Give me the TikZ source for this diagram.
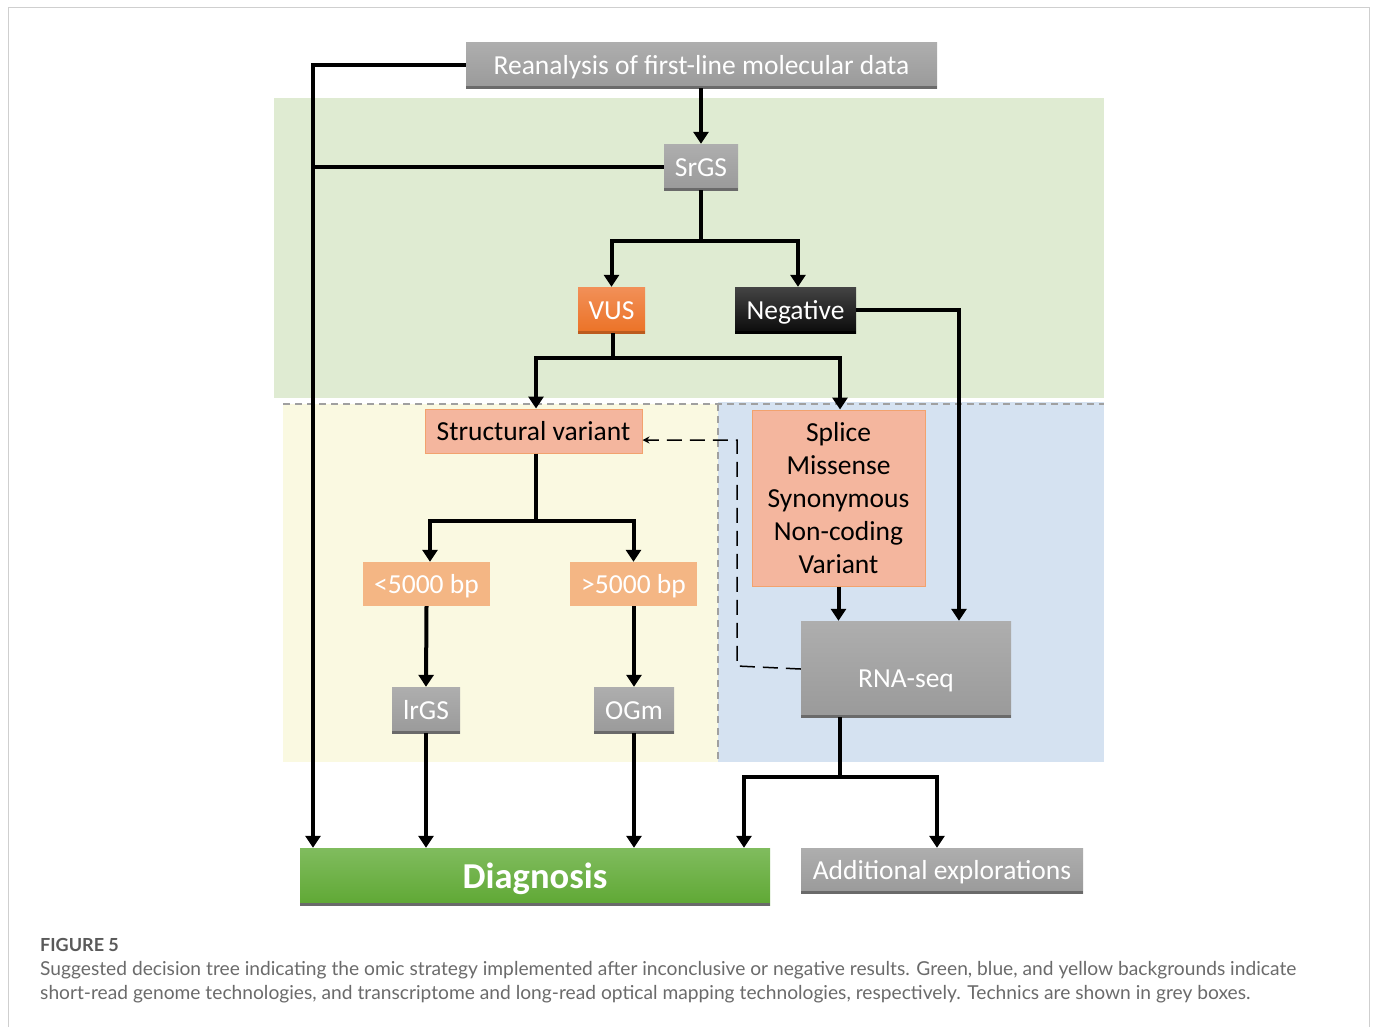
\documentclass[tikz,border=0pt]{standalone}
\usepackage{fontspec}
\setmainfont{Carlito}
\newfontfamily\capfont{Lato}
\usetikzlibrary{arrows.meta}
\definecolor{bggreen}{HTML}{DFEBD2}
\definecolor{bgyellow}{HTML}{FAF9E1}
\definecolor{bgblue}{HTML}{D5E2F1}
\definecolor{frame}{HTML}{CFCFCF}
\definecolor{dashgrey}{HTML}{A0A0A0}
\definecolor{greytop}{HTML}{AEAEAE}
\definecolor{greybot}{HTML}{9A9A9A}
\definecolor{greyline}{HTML}{6A6A6A}
\definecolor{orgtop}{HTML}{F29058}
\definecolor{orgbot}{HTML}{EB7226}
\definecolor{blktop}{HTML}{444444}
\definecolor{blkbot}{HTML}{0A0A0A}
\definecolor{salmon}{HTML}{F4B69E}
\definecolor{salmonedge}{HTML}{F2A26E}
\definecolor{lorange}{HTML}{F4B684}
\definecolor{grntop}{HTML}{80BC5E}
\definecolor{grnbot}{HTML}{5FA834}
\definecolor{captext}{HTML}{6B6B6B}
\definecolor{capbold}{HTML}{5A5A5A}
\tikzset{
  x=1pt, y=-1pt,
  every node/.style={inner sep=0pt, font=\fontsize{27.5}{33}\selectfont},
  capfix/.style={text height=18pt, text depth=0pt},
  bottomline/.style={path picture={\draw[line width=4pt, #1] (path picture bounding box.south west) -- (path picture bounding box.south east);}},
  greybox/.style={rectangle, capfix, top color=greytop, bottom color=greybot, text=white, bottomline=greyline},
  vusbox/.style={rectangle, capfix, top color=orgtop, bottom color=orgbot, text=white, bottomline=orgbot!80!black},
  negbox/.style={rectangle, capfix, top color=blktop, bottom color=blkbot, text=white, bottomline=black},
  salmonbox/.style={rectangle, fill=salmon, draw=salmonedge, line width=1pt, text=black},
  bpbox/.style={rectangle, capfix, fill=lorange, text=white},
  diagbox/.style={rectangle, text height=24pt, text depth=0pt, top color=grntop, bottom color=grnbot, text=white, bottomline=greyline},
  conn/.style={line width=4pt, -{Triangle[width=15pt,length=12pt]}},
  plainconn/.style={line width=4pt},
  dashconn/.style={line width=1.5pt, dash pattern=on 15pt off 8pt, -{Stealth[width=7pt,length=7pt]}},
  bgdash/.style={line width=2.5pt, dashgrey, dash pattern=on 7pt off 5pt},
  captxt/.style={anchor=base west, text=captext, font=\capfont\fontsize{19.2}{24}\selectfont},
}
\begin{document}
\begin{tikzpicture}
\useasboundingbox (0,0) rectangle (1375,1026);
\fill[white] (0,0) rectangle (1375,1026);
\draw[frame, line width=1.5pt] (8.5,1040) -- (8.5,7.5) -- (1369.5,7.5) -- (1369.5,1040);
% backgrounds
\fill[bggreen] (274,98) rectangle (1104,398);
\fill[bgyellow] (283,404) rectangle (718,762);
\fill[bgblue] (718,402) rectangle (1104,762);
\draw[bgdash] (283,404) -- (1104,404);
\draw[bgdash] (718,404) -- (718,762);
% nodes
\node[greybox, minimum width=471pt, minimum height=46pt] (rean) at (701.5,65) {Reanalysis of first-line molecular data};
\node[greybox, minimum width=74pt, minimum height=46pt] (srgs) at (701,167) {SrGS};
\node[vusbox, minimum width=67pt, minimum height=46pt] (vus) at (611.5,310) {VUS};
\node[negbox, minimum width=121pt, minimum height=46pt] (neg) at (795.5,310) {Negative};
\node[salmonbox, capfix, minimum width=217pt, minimum height=44pt] (sv) at (533.5,431) {Structural variant};
\node[salmonbox, minimum width=173pt, minimum height=176pt, align=center] (spl) at (838.5,498) {Splice\\Missense\\Synonymous\\Non-coding\\Variant};
\node[bpbox, minimum width=127pt, minimum height=44pt] (lt) at (426.5,584) {<5000 bp};
\node[bpbox, minimum width=127pt, minimum height=44pt] (gt) at (633.5,584) {>5000 bp};
\node[greybox, minimum width=68pt, minimum height=46pt] (lrgs) at (426,710) {lrGS};
\node[greybox, minimum width=80pt, minimum height=46pt] (ogm) at (634,710) {OGm};
\node[greybox, minimum width=210pt, minimum height=96pt] (rna) at (906,669) {\raisebox{-9pt}{RNA-seq}};
\node[diagbox, minimum width=470pt, minimum height=57pt, font=\fontsize{36.5}{40}\selectfont\bfseries] (diag) at (535,876.5) {Diagnosis};
\node[greybox, minimum width=282pt, minimum height=45pt] (add) at (942,870.5) {Additional explorations};
% helper coordinates
\coordinate (leftx) at (313,65);
\coordinate (j1) at (701,241);
\coordinate (j2) at (613,358);
\coordinate (j3) at (536,521);
\coordinate (j4) at (840,777);
% connectors
\draw[conn] (rean.west) -- (leftx) -- (leftx |- diag.north);
\draw[plainconn] (srgs.west) -- (leftx |- srgs.west);
\draw[conn] (rean.south -| srgs.north) -- (srgs.north);
\draw[plainconn] (srgs.south) -- (j1);
\draw[conn] (j1) -| (vus.north);
\draw[conn] (j1) -| ([xshift=2.5pt]neg.north);
\draw[conn] (neg.east) -| (959,0 |- rna.north);
\draw[plainconn] (vus.south -| j2) -- (j2);
\draw[conn] (j2) -| (sv.north -| j3);
\draw[conn] (j2) -| ([xshift=1.5pt]spl.north);
\draw[plainconn] (sv.south -| j3) -- (j3);
\draw[conn] (j3) -| ([xshift=3.5pt]lt.north);
\draw[conn] (j3) -| (gt.north);
\draw[conn] (lt.south) -- (lrgs.north);
\draw[conn] (gt.south -| ogm.north) -- (ogm.north);
\draw[conn] (lrgs.south) -- (lrgs.south |- diag.north);
\draw[conn] (ogm.south) -- (ogm.south |- diag.north);
\draw[conn] (spl.south) -- (spl.south |- rna.north);
\draw[plainconn] (rna.south -| j4) -- (j4);
\draw[conn] (j4) -| (744,0 |- diag.north);
\draw[conn] (j4) -| (937,0 |- add.north);
\draw[dashconn] (rna.west) -- (737,666) -- (737,440) -- (sv.east |- 0,440);
% caption
\node[anchor=base west, text=capbold, font=\capfont\fontsize{18}{20}\selectfont\bfseries] (figlab) at (40,951) {FIGURE 5};
\node[captxt] (cap1) at (40,975) {Suggested decision tree indicating the omic strategy implemented after inconclusive or negative results. Green, blue, and yellow backgrounds indicate};
\node[captxt] (cap2) at (40,999) {short-read genome technologies, and transcriptome and long-read optical mapping technologies, respectively. Technics are shown in grey boxes.};
\end{tikzpicture}
\end{document}
